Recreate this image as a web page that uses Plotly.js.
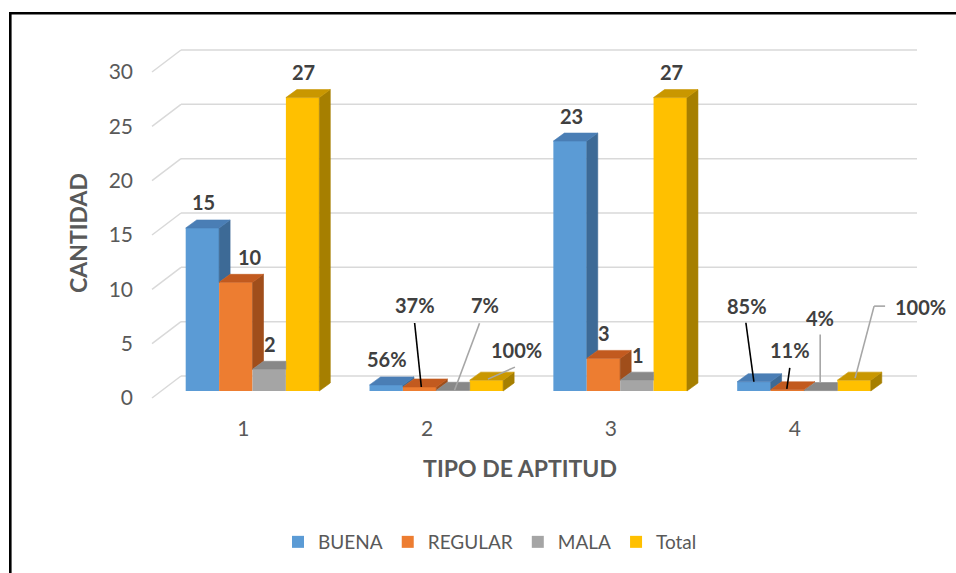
<!DOCTYPE html>
<html>
<head>
<meta charset="utf-8">
<script src="https://cdn.plot.ly/plotly-3.0.1.min.js"></script>
<style>
html,body{margin:0;padding:0;background:#ffffff;}
#chart{width:956px;height:573px;}
</style>
</head>
<body>
<div id="chart"></div>
<script>
// ---------- DATA ----------
const categories = ['1', '2', '3', '4'];
const catPos = [1, 2, 3, 4];
const seriesNames = ['BUENA', 'REGULAR', 'MALA', 'Total'];
const buena   = [15, 0.56, 23, 0.85];
const regular = [10, 0.37, 3, 0.11];
const mala    = [2, 0.07, 1, 0.04];
const total   = [27, 1, 27, 1];
const isPercent = [false, true, false, true];
const yTickVals = [0, 5, 10, 15, 20, 25, 30];
const xTitle = 'TIPO DE APTITUD';
const yTitle = 'CANTIDAD';

// ---------- STYLE / GEOMETRY ----------
const frontColors = ['#5B9BD5', '#ED7D31', '#A5A5A5', '#FFC000'];
const sideColors  = ['#3D6A96', '#A04E1B', '#757575', '#A67F00'];
const topColors   = ['#4A7EB5', '#C25A1F', '#888888', '#C99700'];
const FONT = 'Lato, "Open Sans", sans-serif';
const W = 956, H = 573;
const plotL = 152, plotR = 888, plotT = 47, plotB = 419;
const plotW = plotR - plotL, plotH = plotB - plotT;
const ky = 10.867;            // px per value unit
const kx = 183.83;            // px per category step
const zeroFrontPx = 398;      // pixel row of value 0 on the front edge
const cat1BarPx = 252.5;      // pixel column of category 1 (bar plane)
const wallDX = 29, wallDY = 22, wallRightPx = 917;
const barPlaneDX = 9.2, barPlaneDY = 7;
const barDX = 11, barDY = 8, barWpx = 33.4;

const xRange = [1 - (cat1BarPx - plotL) / kx, 1 + (plotR - cat1BarPx) / kx];
const yRange = [-(plotB - zeroFrontPx) / ky, (zeroFrontPx - plotT) / ky];
const wU = barWpx / kx, dxU = barDX / kx, dyU = barDY / ky, B = barPlaneDY / ky;
const series = [buena, regular, mala, total];

const traces = [];
// front faces (bars)
series.forEach((vals, si) => {
  traces.push({
    type: 'bar', name: seriesNames[si], x: catPos, y: vals, base: B,
    marker: {color: frontColors[si], line: {width: 0}},
    hoverinfo: 'skip', showlegend: true
  });
});
// side and top faces
series.forEach((vals, si) => {
  const sx = [], sy = [], tx = [], ty = [];
  catPos.forEach((c, ci) => {
    const v = vals[ci];
    const vNext = si < series.length - 1 ? series[si + 1][ci] : 0;
    const xl = c + (si - 1.5) * wU - wU / 2, xr = xl + wU;
    const h = B + v;
    if (vNext < v) {
      sx.push(xr, xr + dxU, xr + dxU, xr, xr, null);
      sy.push(B + vNext, B + vNext + dyU, h + dyU, h, B + vNext, null);
    }
    if (vNext > v) {
      tx.push(xl, xr, xr, xl + dxU, xl, null);
    } else {
      tx.push(xl, xr, xr + dxU, xl + dxU, xl, null);
    }
    ty.push(h, h, h + dyU, h + dyU, h, null);
  });
  traces.push({type: 'scatter', mode: 'lines', x: sx, y: sy, fill: 'toself',
    fillcolor: sideColors[si], line: {width: 0.6, color: sideColors[si]},
    hoverinfo: 'skip', showlegend: false});
  traces.push({type: 'scatter', mode: 'lines', x: tx, y: ty, fill: 'toself',
    fillcolor: topColors[si], line: {width: 0.6, color: topColors[si]},
    hoverinfo: 'skip', showlegend: false});
});

// label placement (pixel offsets from each bar's front-top centre)
const labelPlacement = {
  '0-0': {t: [1, 25.5]}, '1-0': {t: [14, 25]}, '2-0': {t: [1, 25.5]}, '3-0': {t: [1, 25.5]},
  '0-2': {t: [1, 25.5]}, '1-2': {t: [1, 25.5]}, '2-2': {t: [1, 25.5]}, '3-2': {t: [1, 25.5]},
  '0-1': {t: [0.5, 26]},
  '1-1': {t: [-5, 82], l: [[-5, 64, 1.7, 0]], c: '#000000'},
  '2-1': {t: [31.5, 85], l: [[26.5, 67, 1.5, 0]], c: '#A6A6A6'},
  '3-1': {t: [30.5, 30], l: [[28.5, 13, 1.5, 1]], c: '#A6A6A6'},
  '0-3': {t: [-7, 76], l: [[-8, 59, 0, 0]], c: '#000000'},
  '1-3': {t: [2.5, 40], l: [[2.5, 22, -0.5, 1]], c: '#000000'},
  '2-3': {t: [-0.5, 73], l: [[-0.5, 56, -0.5, 8]], c: '#A6A6A6'},
  '3-3': {t: [66, 73], l: [[31, 74, 20, 74], [20, 74, 1, 2]], c: '#A6A6A6'}
};

const annotations = [];
const shapes = [];
series.forEach((vals, si) => {
  catPos.forEach((c, ci) => {
    const v = vals[ci];
    const cx = c + (si - 1.5) * wU;
    const cy = B + v;
    const p = labelPlacement[si + '-' + ci];
    const txt = isPercent[ci] ? Math.round(v * 100) + '%' : String(v);
    annotations.push({
      x: cx, y: cy, xref: 'x', yref: 'y', text: txt, showarrow: false,
      xshift: p.t[0], yshift: p.t[1], xanchor: 'center', yanchor: 'middle',
      font: {family: FONT, size: 20, color: '#404040', weight: 'bold'}
    });
    if (p.l) {
      p.l.forEach(seg => {
        shapes.push({type: 'line', xref: 'x', yref: 'y', layer: 'above',
          xsizemode: 'pixel', ysizemode: 'pixel', xanchor: cx, yanchor: cy,
          x0: seg[0], y0: seg[1], x1: seg[2], y1: seg[3],
          line: {color: p.c, width: 1.6}});
      });
    }
  });
});

// wall gridlines
yTickVals.forEach(v => {
  shapes.push({type: 'line', xref: 'paper', yref: 'y', layer: 'below',
    x0: wallDX / plotW, x1: (wallRightPx - plotL) / plotW,
    y0: v + wallDY / ky, y1: v + wallDY / ky,
    line: {color: '#D9D9D9', width: 1.5}});
  shapes.push({type: 'line', xref: 'paper', yref: 'y', layer: 'below',
    x0: 0, x1: wallDX / plotW, y0: v, y1: v + wallDY / ky,
    line: {color: '#D9D9D9', width: 1.5}});
});
// frame border (top and left)
const px2paperX = px => (px - plotL) / plotW;
const px2paperY = py => (plotB - py) / plotH;
shapes.push({type: 'line', xref: 'paper', yref: 'paper', layer: 'above',
  x0: px2paperX(9), x1: px2paperX(960), y0: px2paperY(13.3), y1: px2paperY(13.3),
  line: {color: '#000000', width: 2.6}});
shapes.push({type: 'line', xref: 'paper', yref: 'paper', layer: 'above',
  x0: px2paperX(10.3), x1: px2paperX(10.3), y0: px2paperY(12), y1: px2paperY(580),
  line: {color: '#000000', width: 2.6}});

const layout = {
  width: W, height: H,
  margin: {l: plotL, r: W - plotR, t: plotT, b: H - plotB, pad: 0},
  paper_bgcolor: '#ffffff', plot_bgcolor: 'rgba(0,0,0,0)',
  font: {family: FONT, color: '#595959'},
  barmode: 'group', bargap: 1 - 4 * wU, bargroupgap: 0,
  showlegend: true,
  legend: {orientation: 'h', x: px2paperX(490), xanchor: 'center',
    y: px2paperY(542), yanchor: 'middle', itemwidth: 30,
    font: {family: FONT, size: 19, color: '#595959'}, traceorder: 'normal'},
  xaxis: {range: xRange, tickmode: 'array',
    tickvals: catPos.map(c => c - barPlaneDX / kx), ticktext: categories,
    showgrid: false, zeroline: false, showline: false, ticks: '',
    ticklabelstandoff: -5, fixedrange: true,
    tickfont: {family: FONT, size: 21, color: '#595959'},
    title: {text: xTitle, standoff: 21,
      font: {family: FONT, size: 23, color: '#595959', weight: 'bold'}}},
  yaxis: {range: yRange, tickmode: 'array', tickvals: yTickVals,
    showgrid: false, zeroline: false, showline: false, ticks: '',
    ticklabelstandoff: 18, fixedrange: true,
    tickfont: {family: FONT, size: 21, color: '#595959'},
    title: {text: yTitle, standoff: 14,
      font: {family: FONT, size: 23, color: '#595959', weight: 'bold'}}},
  annotations: annotations,
  shapes: shapes
};

Plotly.newPlot('chart', traces, layout, {displayModeBar: false, staticPlot: true});
</script>
</body>
</html>
